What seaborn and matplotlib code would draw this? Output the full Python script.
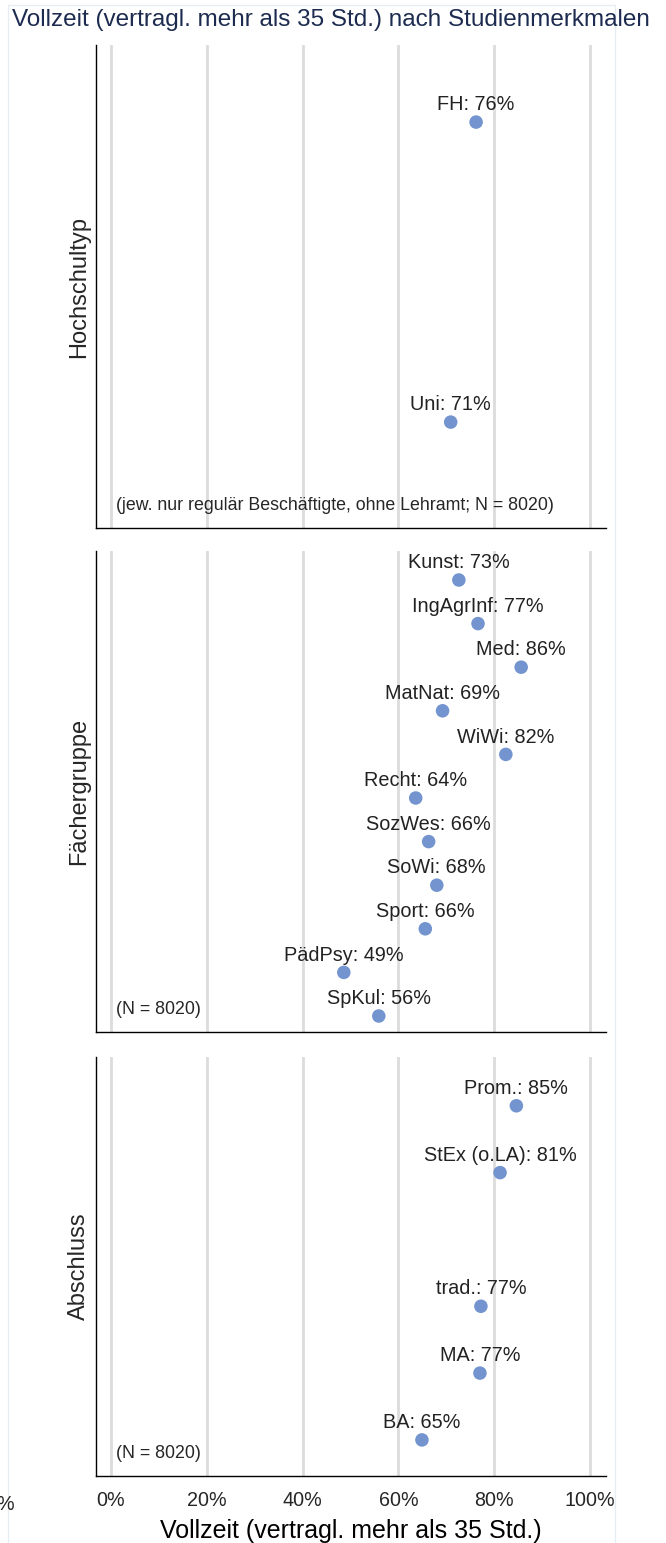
import matplotlib
matplotlib.use("Agg")
import matplotlib.pyplot as plt
import seaborn as sns
import pandas as pd
from matplotlib.patches import Rectangle

# data
typ_labels = ["FH", "Uni"]
typ_pos = [0, 1]
typ_vals = [76.2, 70.9]

fach_labels = ["Kunst", "IngAgrInf", "Med", "MatNat", "WiWi", "Recht",
               "SozWes", "SoWi", "Sport", "PädPsy", "SpKul"]
fach_pos = [0, 1, 2, 3, 4, 5, 6, 7, 8, 9, 10]
fach_vals = [72.6, 76.6, 85.6, 69.2, 82.4, 63.6, 66.3, 68.0, 65.6, 48.6, 55.9]

abs_labels = ["Prom.", "StEx (o.LA)", "trad.", "MA", "BA"]
abs_pos = [0, 1, 3, 4, 5]
abs_vals = [84.6, 81.2, 77.2, 77.0, 64.9]

xticks = [0, 20, 40, 60, 80, 100]
xtick_labels = ["0%", "20%", "40%", "60%", "80%", "100%"]

sns.set_style("white")
plt.rcParams['font.family'] = ['Liberation Sans', 'DejaVu Sans']

dot_color = "#7394cf"
W, H = 666, 1543
fig = plt.figure(figsize=(W / 100, H / 100), dpi=100)
fig.patch.set_facecolor("white")

# faint outer frame
fig.patches.append(Rectangle((8 / W, -0.01), (615 - 8) / W, 1 - 5 / H + 0.01,
                             transform=fig.transFigure, fill=False,
                             edgecolor="#e6edf3", lw=1))


def panel(top, bottom, labels, pos, vals, ylim, ylabel, note, last=False):
    ax = fig.add_axes([96 / W, 1 - bottom / H, 510 / W, (bottom - top) / H])
    df = pd.DataFrame({"label": labels, "pos": pos, "val": vals})
    for x in xticks:
        ax.axvline(x, color="#dcdcdc", lw=2, zorder=0)
    sns.scatterplot(data=df, x="val", y="pos", ax=ax, color=dot_color,
                    s=95, edgecolor="none", zorder=3, legend=False)
    for _, r in df.iterrows():
        ax.annotate(f"{r['label']}: {r['val']:.0f}%", (r["val"], r["pos"]),
                    xytext=(0, 12.5), textcoords="offset points",
                    ha="center", va="center", fontsize=14.3, color="#222222")
    ax.set_xlim(-3.1, 103.3)
    ax.set_ylim(*ylim)
    ax.set_yticks([])
    ax.set_ylabel(ylabel, fontsize=17, labelpad=4)
    ax.annotate(note, (1.0, 0), xycoords=("data", "axes fraction"),
                xytext=(0, 23 * 0.72), textcoords="offset points",
                fontsize=12.8, ha="left", va="center")
    for s in ["top", "right"]:
        ax.spines[s].set_visible(False)
    for s in ["left", "bottom"]:
        ax.spines[s].set_color("black")
        ax.spines[s].set_linewidth(1)
    ax.set_xticks(xticks)
    if last:
        ax.set_xticklabels(xtick_labels, fontsize=14.2)
        ax.tick_params(axis="x", length=7, width=1, color="black", direction="out", pad=4)
    else:
        ax.set_xticklabels([])
        ax.tick_params(axis="x", length=0)
    ax.set_xlabel("")
    return ax


panel(45, 528, typ_labels, typ_pos, typ_vals, (1.353, -0.257), "Hochschultyp",
      "(jew. nur regulär Beschäftigte, ohne Lehramt; N = 8020)")
panel(551, 1032, fach_labels, fach_pos, fach_vals, (10.367, -0.665), "Fächergruppe",
      "(N = 8020)")
panel(1057, 1476, abs_labels, abs_pos, abs_vals, (5.54, -0.73), "Abschluss",
      "(N = 8020)", last=True)

fig.text(331 / W, 1 - 20 / H, "Vollzeit (vertragl. mehr als 35 Std.) nach Studienmerkmalen",
         ha="center", va="center", fontsize=17.5, color="#1c2b4f")
fig.text(351 / W, 1 - 1531 / H, "Vollzeit (vertragl. mehr als 35 Std.)",
         ha="center", va="center", fontsize=18, color="black")
fig.text(-0.006, 1 - 1505 / H, "%", ha="left", va="center", fontsize=14.2)

fig.savefig("out.png", dpi=100)
